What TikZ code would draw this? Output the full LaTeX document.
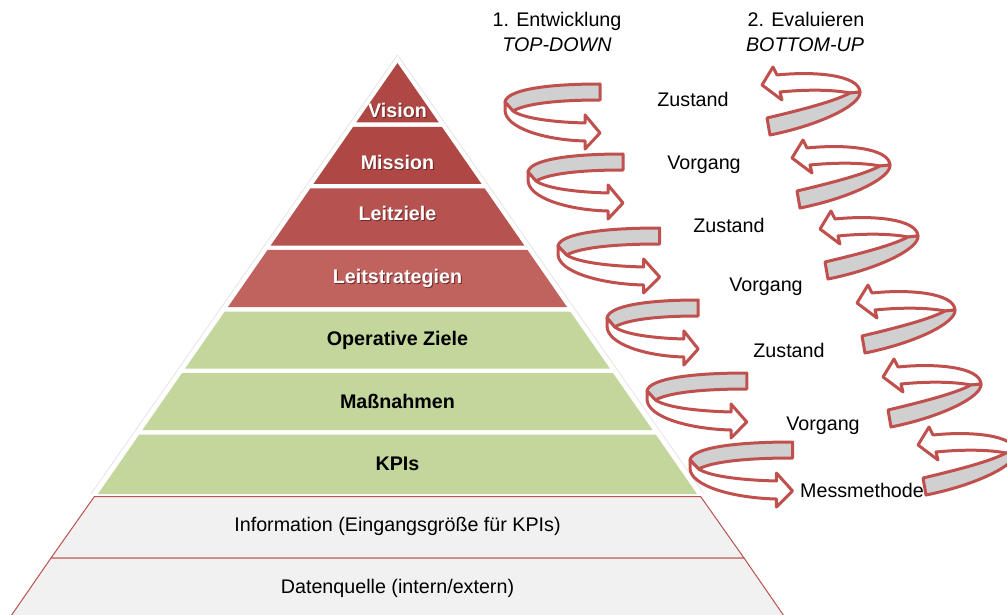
\documentclass[tikz,border=0pt]{standalone}
\usepackage{fontspec}
\setmainfont{Liberation Sans}
\begin{document}
\definecolor{ribred}{HTML}{C0504D}
\definecolor{ribgrey}{HTML}{D0D0D0}
\definecolor{topred}{HTML}{AF4744}
\definecolor{midred}{HTML}{B6524F}
\definecolor{lowred}{HTML}{C0625E}
\definecolor{leafgreen}{HTML}{C3D69B}
\definecolor{basegrey}{HTML}{F1F1F1}
\definecolor{baseedge}{HTML}{B9524F}
\definecolor{txtshadow}{HTML}{6E2826}
\begin{tikzpicture}[x=1pt, y=-1pt,
  rib/.style={draw=ribred, line width=3pt, line join=round},
  layertxt/.style={anchor=base, inner sep=0pt, font=\fontsize{19.7}{23}\selectfont},
  boldtxt/.style={layertxt, font=\fontsize{19.7}{23}\selectfont\bfseries},
  whitetxt/.style={boldtxt, text=white},
  shadetxt/.style={boldtxt, text=txtshadow},
  sidetxt/.style={layertxt},
  headtxt/.style={layertxt},
  % ribbon turning to the right (top-down development)
  downturn/.pic={
    \path[rib, fill=ribgrey] (95,-22) .. controls (40,-22) and (2,-16) .. (0,-4)
      -- (8,5) .. controls (20,-2) and (50,-6) .. (95,-6) -- cycle;
    \path[rib, fill=white] (0,-4) -- (0,4) .. controls (0,22) and (40,34) .. (80,35)
      -- (80,43) -- (95,27) -- (80,9) -- (80,17)
      .. controls (45,16) and (18,12) .. (8,5) -- cycle;
  },
  % ribbon turning to the left (bottom-up evaluation)
  upturn/.pic={
    \path[rib, fill=white] (-83,-18) -- (-87,-26) -- (-98,-8) -- (-78,7) -- (-80,-1)
      .. controls (-50,-4) and (-25,-3) .. (-10,0) -- (0,-1)
      .. controls (-1,-18) and (-45,-22) .. (-83,-18) -- cycle;
    \path[rib, fill=ribgrey] (-10,0) -- (0,-1) .. controls (1,12) and (-40,32) .. (-90,42)
      -- (-93,25) .. controls (-55,16) and (-25,8) .. (-10,0) -- cycle;
  }]
\clip (0,0) rectangle (1007,615);
\fill[white] (0,0) rectangle (1007,615);

% faint halo along the sides of the coloured pyramid
\draw[black!10, line width=0.8pt] (91,494) -- (397.5,55) -- (704,494);

% coloured pyramid layers
\fill[topred] (397.5,63) -- (438.8,122.4) -- (356.2,122.4) -- cycle;
\fill[topred] (353.2,126.8) -- (441.8,126.8) -- (481.5,183.9) -- (313.5,183.9) -- cycle;
\fill[midred] (310.4,188.3) -- (484.6,188.3) -- (524.3,245.5) -- (270.7,245.5) -- cycle;
\fill[lowred] (267.6,249.9) -- (527.4,249.9) -- (567.1,307.1) -- (227.9,307.1) -- cycle;
\fill[leafgreen] (224.8,311.5) -- (570.2,311.5) -- (610.0,368.7) -- (185.0,368.7) -- cycle;
\fill[leafgreen] (182.0,373.1) -- (613.0,373.1) -- (652.7,430.2) -- (142.3,430.2) -- cycle;
\fill[leafgreen] (139.2,434.6) -- (655.8,434.6) -- (697.0,494) -- (98.0,494) -- cycle;

% grey foundation layers
\draw[baseedge, line width=1pt, fill=basegrey] (94.4,496.5) -- (700.6,496.5) -- (744,558) -- (51,558) -- cycle;
\draw[baseedge, line width=1pt, fill=basegrey] (51,558) -- (744,558) -- (784,616) -- (11,616) -- cycle;

% layer captions
\node[shadetxt] (visionsh) at (398.5,119) {Vision};
\node[whitetxt] (vision) at (397.5,118) {Vision};
\node[shadetxt] (missionsh) at (398.5,171) {Mission};
\node[whitetxt] (mission) at (397.5,170) {Mission};
\node[shadetxt] (leitzielesh) at (398.5,221) {Leitziele};
\node[whitetxt] (leitziele) at (397.5,220) {Leitziele};
\node[shadetxt] (leitstratsh) at (398.5,284) {Leitstrategien};
\node[whitetxt] (leitstrat) at (397.5,283) {Leitstrategien};
\node[boldtxt] (opziele) at (397.5,345) {Operative Ziele};
\node[boldtxt] (massn) at (397.5,408) {Maßnahmen};
\node[boldtxt] (kpis) at (397.5,470) {KPIs};
\node[layertxt] (info) at (397.5,531) {Information (Eingangsgröße für KPIs)};
\node[layertxt] (daten) at (397.5,593) {Datenquelle (intern/extern)};

% column headings
\node[headtxt] (entw) at (557,27) {1. Entwicklung};
\node[headtxt, font=\fontsize{19.7}{23}\selectfont\itshape] (topdown) at (557,52) {TOP-DOWN};
\node[headtxt] (eval) at (806,27) {2. Evaluieren};
\node[headtxt, font=\fontsize{19.7}{23}\selectfont\itshape] (bottomup) at (805,52) {BOTTOM-UP};

% spiral ribbons, development side
\pic (dn1) at (505,106) {downturn};
\pic (dn2) at (528,176) {downturn};
\pic[xscale=1.07] (dn3) at (558,250) {downturn};
\pic[xscale=0.96] (dn4) at (607,322) {downturn};
\pic[xscale=1.05] (dn5) at (647,395) {downturn};
\pic[xscale=1.08] (dn6) at (690,464) {downturn};

% spiral ribbons, evaluation side
\pic (up1) at (860,93) {upturn};
\pic (up2) at (890,166) {upturn};
\pic (up3) at (918,237) {upturn};
\pic (up4) at (955,311) {upturn};
\pic (up5) at (981,385) {upturn};
\pic (up6) at (1016,453) {upturn};

% states and processes between the ribbons
\node[sidetxt] (z1) at (693,107) {Zustand};
\node[sidetxt] (v1) at (704,169) {Vorgang};
\node[sidetxt] (z2) at (729,233) {Zustand};
\node[sidetxt] (v2) at (766,291) {Vorgang};
\node[sidetxt] (z3) at (789,357) {Zustand};
\node[sidetxt] (v3) at (823,430) {Vorgang};
\node[sidetxt] (mess) at (862,497) {Messmethode};
\end{tikzpicture}
\end{document}
